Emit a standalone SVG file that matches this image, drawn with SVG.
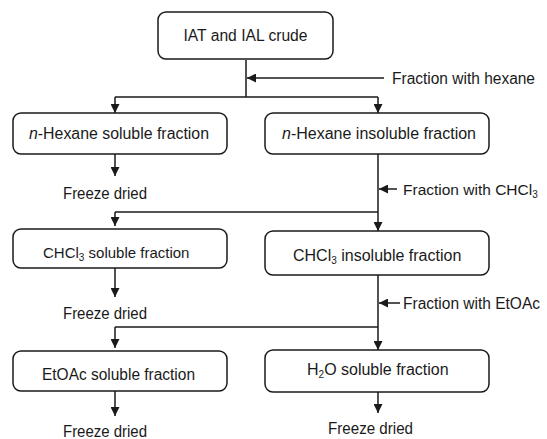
<svg xmlns="http://www.w3.org/2000/svg" width="547" height="439" viewBox="0 0 547 439">
<style>
.box{fill:#fff;stroke:#1a1a1a;stroke-width:1.5}
.t{font-family:"Liberation Sans",Arial,sans-serif;font-size:16px;fill:#1a1a1a}
.c{text-anchor:middle}
.ln{fill:none;stroke:#1a1a1a;stroke-width:1.5}
.ar{marker-end:url(#ah)}
.sub{font-size:10px}
</style>
<defs>
<marker id="ah" markerUnits="userSpaceOnUse" markerWidth="9" markerHeight="9" refX="9" refY="4.5" orient="auto">
<path d="M0,0 L9,4.5 L0,9 z" fill="#1a1a1a"/>
</marker>
</defs>
<rect width="547" height="439" fill="#fff"/>
<g id="connectors">
<path class="ln" d="M246,60 V97 M115,97 H378"/>
<path class="ln ar" d="M115,97 V113"/>
<path class="ln ar" d="M378,97 V113"/>
<path class="ln ar" d="M384,78 H247"/>
<path class="ln ar" d="M115,154 V176"/>
<path class="ln ar" d="M378,154 V231"/>
<path class="ln" d="M115,212 H378"/>
<path class="ln ar" d="M115,212 V226"/>
<path class="ln ar" d="M397,189 H379"/>
<path class="ln ar" d="M115,268 V297"/>
<path class="ln ar" d="M378,275 V350"/>
<path class="ln" d="M115,327 H378"/>
<path class="ln ar" d="M115,327 V348"/>
<path class="ln ar" d="M400,303 H379"/>
<path class="ln ar" d="M115,391 V416"/>
<path class="ln ar" d="M378,392 V413"/>
</g>
<g id="crude">
<rect class="box" x="158" y="12" width="175" height="47" rx="8"/>
<text class="t c" x="245.5" y="41" textLength="124" lengthAdjust="spacingAndGlyphs">IAT and IAL crude</text>
</g>
<g id="hexane-label">
<text class="t" x="392" y="83.5" textLength="143" lengthAdjust="spacingAndGlyphs">Fraction with hexane</text>
</g>
<g id="hex-sol">
<rect class="box" x="13" y="113" width="214" height="41" rx="8"/>
<text class="t" x="29" y="139" textLength="180" lengthAdjust="spacingAndGlyphs"><tspan font-style="italic">n</tspan>-Hexane soluble fraction</text>
</g>
<g id="hex-insol">
<rect class="box" x="265" y="113" width="224" height="41" rx="8"/>
<text class="t" x="282" y="139" textLength="194" lengthAdjust="spacingAndGlyphs"><tspan font-style="italic">n</tspan>-Hexane insoluble fraction</text>
</g>
<g id="fd1">
<text class="t" x="63" y="199" textLength="84" lengthAdjust="spacingAndGlyphs">Freeze dried</text>
</g>
<g id="chcl3-label">
<text class="t" x="403" y="195" style="font-size:15.5px">Fraction with CHCl<tspan class="sub" dy="3">3</tspan></text>
</g>
<g id="chcl3-sol">
<rect class="box" x="13" y="229" width="214" height="39" rx="8"/>
<text class="t" x="43" y="258" style="font-size:15px">CHCl<tspan class="sub" dy="3">3</tspan><tspan dy="-3"> soluble fraction</tspan></text>
</g>
<g id="chcl3-insol">
<rect class="box" x="265" y="231" width="224" height="44" rx="8"/>
<text class="t" x="293" y="261">CHCl<tspan class="sub" dy="3">3</tspan><tspan dy="-3"> insoluble fraction</tspan></text>
</g>
<g id="fd2">
<text class="t" x="63" y="319" textLength="84" lengthAdjust="spacingAndGlyphs">Freeze dried</text>
</g>
<g id="etoac-label">
<text class="t" x="403" y="309" textLength="137" lengthAdjust="spacingAndGlyphs">Fraction with EtOAc</text>
</g>
<g id="etoac-sol">
<rect class="box" x="13" y="351" width="214" height="40" rx="8"/>
<text class="t" x="42" y="380" textLength="153" lengthAdjust="spacingAndGlyphs">EtOAc soluble fraction</text>
</g>
<g id="h2o-sol">
<rect class="box" x="265" y="350" width="224" height="42" rx="8"/>
<text class="t" x="307" y="375">H<tspan class="sub" dy="3">2</tspan><tspan dy="-3">O soluble fraction</tspan></text>
</g>
<g id="fd3">
<text class="t" x="63" y="436.5" textLength="84" lengthAdjust="spacingAndGlyphs">Freeze dried</text>
</g>
<g id="fd4">
<text class="t" x="328" y="434" textLength="85" lengthAdjust="spacingAndGlyphs">Freeze dried</text>
</g>
</svg>
